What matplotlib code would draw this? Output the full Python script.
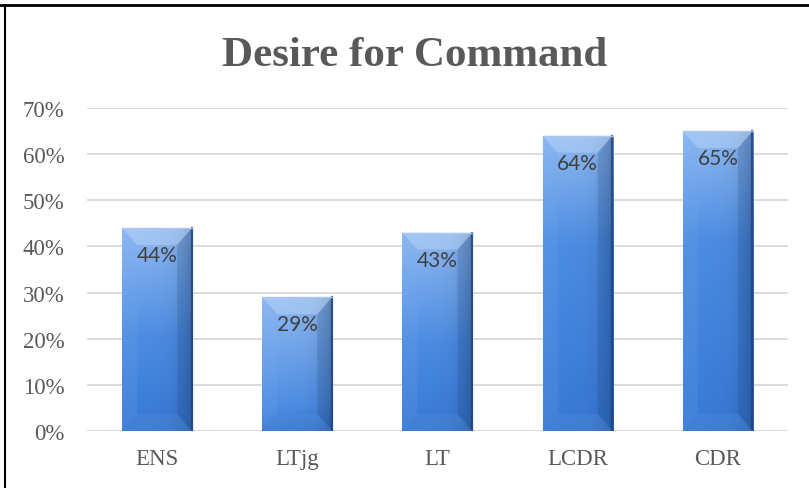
import numpy as np
import matplotlib.pyplot as plt
from matplotlib.patches import Polygon
from matplotlib.colors import to_rgb
from matplotlib.ticker import PercentFormatter

# data
ranks = ["ENS", "LTjg", "LT", "LCDR", "CDR"]
desire = [0.44, 0.29, 0.43, 0.64, 0.65]
yticks = [0, 0.1, 0.2, 0.3, 0.4, 0.5, 0.6, 0.7]

grey = "#595959"
serif = ["Liberation Serif", "DejaVu Serif"]

fig = plt.figure(figsize=(8.09, 4.89), dpi=100)
ax = fig.add_axes([0.1075, 0.1166, 0.8665, 0.6604])

bars = ax.bar(ranks, desire, width=0.5, color="#3f7fd4", zorder=2)

ax.set_ylim(0, 0.7)
ax.set_xlim(-0.5, len(ranks) - 0.5)
ax.set_yticks(yticks)
ax.yaxis.set_major_formatter(PercentFormatter(1.0, decimals=0))
ax.grid(axis="y", color="#d9d9d9", linewidth=1.3, zorder=0)
ax.set_axisbelow(True)
for s in ax.spines.values():
    s.set_visible(False)
ax.tick_params(length=0)
ax.tick_params(axis="y", pad=16)
ax.tick_params(axis="x", pad=12)
for lab in ax.get_xticklabels() + ax.get_yticklabels():
    lab.set_family(serif)
    lab.set_fontsize(16.5)
    lab.set_color(grey)

# bevel sizes (pixels -> data units)
px_x = len(ranks) / 701.0
px_y = 0.7 / 323.0
bx, by = 15 * px_x, 17 * px_y

top_c = np.array(to_rgb("#8cb5ec"))
mid_c = np.array(to_rgb("#4a88dc"))
bot_c = np.array(to_rgb("#3675d0"))
for b in bars:
    x0, w, h = b.get_x(), b.get_width(), b.get_height()
    x1 = x0 + w
    # body gradient: lighter at top, a bit darker toward the right edge
    ny, nx = 200, 60
    ypx = h / px_y  # bar height in pixels
    d = np.linspace(0, ypx, ny)[:, None, None]  # distance from top in px
    t = np.clip(d / 110.0, 0, 1)
    img = top_c * (1 - t) + mid_c * t
    t2 = np.clip((d - 110) / max(ypx - 110, 1), 0, 1)
    img = img * (1 - t2) + bot_c * t2
    img = np.repeat(img, nx, axis=1)
    u = np.linspace(0, 1, nx)[None, :, None]
    shade = 1.04 - 0.04 * u - 0.22 * u ** 6
    img = np.clip(img * shade, 0, 1)
    im = ax.imshow(img, extent=(x0, x1, 0, h), aspect="auto", zorder=3,
                   origin="upper", interpolation="bilinear")
    im.set_clip_path(b)
    b.set_visible(False)
    # bevel faces
    faces = [
        ([(x0, h), (x1, h), (x1 - bx, h - by), (x0 + bx, h - by)], "#bcd6f7", 0.45),
        ([(x0, 0), (x0 + bx, by), (x0 + bx, h - by), (x0, h)], "#7aaae8", 0.18),
        ([(x1, 0), (x1, h), (x1 - bx, h - by), (x1 - bx, by)], "#1d4a8e", 0.22),
        ([(x0, 0), (x0 + bx, by), (x1 - bx, by), (x1, 0)], "#5a92de", 0.25),
    ]
    for pts, c, a in faces:
        ax.add_patch(Polygon(pts, closed=True, facecolor=c, alpha=a,
                             edgecolor="none", zorder=4))
    ax.plot([x1 - 0.004, x1 - 0.004], [0, h], color="#1f4480", lw=1.6,
            alpha=0.8, zorder=5)
    ax.plot([x0, x1], [h, h], color="#a9c8f0", lw=1.0, zorder=5)
    ax.annotate(f"{h * 100:.0f}%", (x0 + w / 2, h), xytext=(0, -19.5),
                textcoords="offset points", ha="center", va="center",
                fontsize=15, color="#404040", family=["Lato", "DejaVu Sans"],
                zorder=6)

fig.text(0.513, 0.885, "Desire for Command", ha="center", va="center",
         fontsize=31, fontweight="bold", color=grey, family=serif)

# frame lines (top and left)
fig.add_artist(plt.Line2D([0, 1], [1 - 6 / 489, 1 - 6 / 489], color="black",
                          lw=2, transform=fig.transFigure))
fig.add_artist(plt.Line2D([5 / 809, 5 / 809], [0, 1 - 6 / 489], color="black",
                          lw=1.5, transform=fig.transFigure))

fig.savefig("out.png", dpi=100)
